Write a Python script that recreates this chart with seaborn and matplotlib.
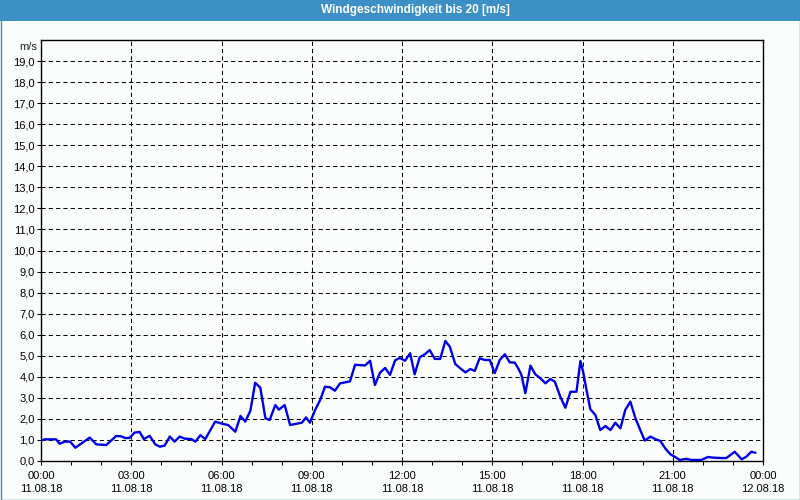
import matplotlib
matplotlib.use("Agg")
import matplotlib.pyplot as plt
from matplotlib.patches import Rectangle
import seaborn as sns
import pandas as pd

# ---- data (hours since 11.08.18 00:00, wind speed m/s) ----
hours = [0.0, 0.13, 0.5, 0.62, 0.79, 0.97, 1.14, 1.62, 1.84, 2.17, 2.5, 2.67, 2.8, 2.95,
         3.11, 3.28, 3.42, 3.61, 3.8, 3.95, 4.11, 4.28, 4.44, 4.61, 4.78, 5.0, 5.13, 5.3,
         5.46, 5.79, 6.05, 6.22, 6.46, 6.63, 6.79, 6.96, 7.12, 7.29, 7.46, 7.6, 7.79, 7.91,
         8.1, 8.28, 8.67, 8.81, 8.94, 9.11, 9.28, 9.44, 9.61, 9.77, 9.94, 10.27, 10.44,
         10.77, 10.94, 11.1, 11.27, 11.44, 11.6, 11.77, 11.93, 12.1, 12.27, 12.42, 12.59,
         12.76, 12.92, 13.09, 13.27, 13.44, 13.59, 13.77, 13.94, 14.11, 14.27, 14.42, 14.58,
         14.75, 14.92, 15.08, 15.25, 15.42, 15.58, 15.75, 15.88, 15.97, 16.1, 16.27, 16.43,
         16.6, 16.77, 16.93, 17.08, 17.26, 17.43, 17.6, 17.8, 17.93, 18.02, 18.13, 18.26,
         18.43, 18.59, 18.76, 18.93, 19.09, 19.26, 19.42, 19.59, 19.76, 19.92, 20.07, 20.26,
         20.42, 20.59, 20.75, 20.92, 21.09, 21.23, 21.45, 21.62, 21.95, 22.17, 22.34, 22.62,
         22.78, 23.06, 23.29, 23.45, 23.61, 23.75]
speed = [0.97, 1.03, 1.03, 0.82, 0.92, 0.92, 0.63, 1.11, 0.79, 0.76, 1.19, 1.17, 1.09, 1.10,
         1.35, 1.38, 1.04, 1.20, 0.79, 0.68, 0.73, 1.16, 0.92, 1.16, 1.06, 1.04, 0.92, 1.23,
         1.04, 1.87, 1.76, 1.71, 1.39, 2.14, 1.87, 2.39, 3.72, 3.48, 2.03, 1.95, 2.66, 2.44,
         2.66, 1.71, 1.82, 2.07, 1.82, 2.42, 2.90, 3.53, 3.50, 3.34, 3.69, 3.78, 4.57,
         4.54, 4.76, 3.61, 4.20, 4.42, 4.09, 4.78, 4.90, 4.76, 5.12, 4.12, 4.93,
         5.07, 5.27, 4.85, 4.85, 5.70, 5.43, 4.61, 4.40, 4.21, 4.37, 4.28, 4.88,
         4.80, 4.80, 4.17, 4.80, 5.07, 4.69, 4.67, 4.36, 4.09, 3.22, 4.53, 4.12,
         3.93, 3.69, 3.90, 3.77, 3.06, 2.53, 3.29, 3.29, 4.75, 4.24, 3.40, 2.46,
         2.18, 1.47, 1.66, 1.47, 1.82, 1.55, 2.42, 2.82, 2.03, 1.47, 0.97, 1.16,
         1.04, 0.95, 0.60, 0.32, 0.18, 0.05, 0.10, 0.05, 0.05, 0.19, 0.16, 0.14,
         0.14, 0.44, 0.08, 0.21, 0.44, 0.39]

x_ticks = [0, 3, 6, 9, 12, 15, 18, 21, 24]
x_labels = ["00:00\n11.08.18", "03:00\n11.08.18", "06:00\n11.08.18", "09:00\n11.08.18",
            "12:00\n11.08.18", "15:00\n11.08.18", "18:00\n11.08.18", "21:00\n11.08.18",
            "00:00\n12.08.18"]
y_ticks = list(range(0, 20))
y_labels = [f"{v},0" for v in y_ticks]
title = "Windgeschwindigkeit bis 20 [m/s]"
unit = "m/s"

sns.set_style("white")
plt.rcParams["font.family"] = ["Liberation Sans", "DejaVu Sans"]

W, H = 800, 500
bg = "#fafdfc"
fig = plt.figure(figsize=(8, 5), dpi=100, facecolor=bg)

# title bar
fig.patches.append(Rectangle((0, 1 - 21 / H), 1, 21 / H, transform=fig.transFigure,
                             facecolor="#3c90c6", edgecolor="none", zorder=0))
fig.text(415 / W, 1 - 10.5 / H, title, color="white", fontsize=8.5, fontweight="bold",
         ha="center", va="center")
# outer border
fig.patches.append(Rectangle((0.5 / W, 0.5 / H), 1 - 1 / W, 1 - 1 / H, transform=fig.transFigure,
                             facecolor="none", edgecolor="#3c90c6", lw=1.0, zorder=5))

ax = fig.add_axes([41 / W, 1 - 461 / H, (763 - 41) / W, (461 - 40) / H])
ax.set_facecolor(bg)

df = pd.DataFrame({"h": hours, "v": speed})
sns.lineplot(data=df, x="h", y="v", ax=ax, color="#0000e6", lw=1.7, zorder=3)

ax.set_xlim(0, 24)
ax.set_ylim(0, 20)
ax.set_xticks(x_ticks)
ax.set_xticklabels(x_labels, fontsize=8, linespacing=1.45)
ax.set_xticks(range(0, 25), minor=True)
ax.set_yticks(y_ticks)
ax.set_yticklabels(y_labels, fontsize=8)
ax.set_xlabel("")
ax.set_ylabel("")

ax.tick_params(axis="both", which="both", direction="out", color="black", length=3,
               width=0.75, colors="black")
ax.tick_params(axis="x", which="major", pad=4)
ax.tick_params(axis="y", which="major", pad=1.5)
ax.tick_params(axis="both", which="both", bottom=True, left=True, top=False, right=False)

ax.grid(True, which="major", axis="both", color="black", lw=0.75, linestyle=(0, (4, 3)))
for s in ax.spines.values():
    s.set_color("black")
    s.set_linewidth(1.0)
    s.set_visible(True)

fig.text(37 / W, 1 - 47 / H, unit, fontsize=8, ha="right", va="center")

fig.savefig("out.png", dpi=100, facecolor=bg)
